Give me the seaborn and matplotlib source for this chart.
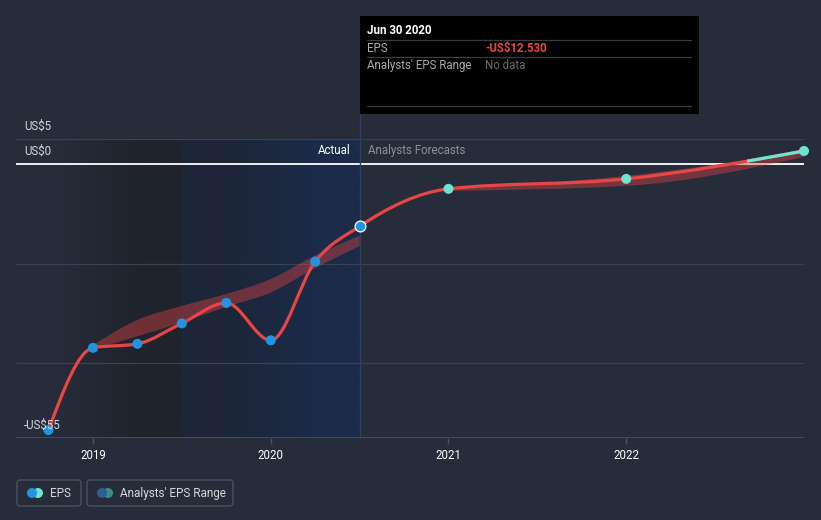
import numpy as np
import matplotlib
matplotlib.use("Agg")
import matplotlib.pyplot as plt
import matplotlib.patches as mpatches
from matplotlib.path import Path
import seaborn as sns

# reported EPS (US$), quarter ends as decimal years
act_x = [2018.75, 2019.0, 2019.25, 2019.5, 2019.75, 2020.0, 2020.25, 2020.5]
act_eps = [-53.4, -36.9, -36.1, -32.0, -27.9, -35.4, -19.6, -12.53]

# analysts' forecasts (year ends)
fc_x = [2021.0, 2022.0, 2023.0]
fc_eps = [-5.0, -3.0, 2.6]

# analysts' EPS range
rng_past_x = [2019.0, 2019.25, 2019.5, 2019.75, 2020.0, 2020.25, 2020.5]
rng_past_lo = [-37.2, -34.6, -31.8, -28.7, -25.8, -20.9, -16.5]
rng_past_hi = [-36.4, -31.3, -28.5, -26.1, -23.1, -18.4, -14.4]
rng_fc_x = [2021.0, 2022.0, 2023.0]
rng_fc_lo = [-5.4, -4.4, 1.4]
rng_fc_hi = [-4.8, -2.4, 2.6]

year_ticks = [2019, 2020, 2021, 2022]
y_label_vals = [5, 0, -55]
y_label_txt = ["US$5", "US$0", "-US$55"]

BG = "#262c3a"
RED = "#e84545"
BLUE = "#2394df"
TEAL = "#6de4cf"
GRID = "#3b4150"
TXT = "#d4d7dc"

sns.set_style("dark", {"axes.facecolor": BG, "figure.facecolor": BG})
plt.rcParams["font.family"] = ["Roboto", "DejaVu Sans"]


def monotone_bezier(xs, ys):
    """Monotone-x cubic (same idea as d3.curveMonotoneX) as bezier vertices."""
    xs = np.asarray(xs, float)
    ys = np.asarray(ys, float)
    h = np.diff(xs)
    s = np.diff(ys) / h
    n = len(xs)
    t = np.zeros(n)
    for i in range(1, n - 1):
        p = (s[i - 1] * h[i] + s[i] * h[i - 1]) / (h[i - 1] + h[i])
        t[i] = (np.sign(s[i - 1]) + np.sign(s[i])) * min(abs(s[i - 1]), abs(s[i]), 0.5 * abs(p))
    if n > 2:
        t[0] = (3 * s[0] - t[1]) / 2
        t[-1] = (3 * s[-1] - t[-2]) / 2
    else:
        t[:] = s[0]
    verts = [(xs[0], ys[0])]
    for i in range(n - 1):
        d = h[i] / 3
        verts += [(xs[i] + d, ys[i] + d * t[i]),
                  (xs[i + 1] - d, ys[i + 1] - d * t[i + 1]),
                  (xs[i + 1], ys[i + 1])]
    return verts


def line_path(xs, ys):
    v = monotone_bezier(xs, ys)
    return Path(v, [Path.MOVETO] + [Path.CURVE4] * (len(v) - 1))


def band_path(xs, lo, hi):
    up = monotone_bezier(xs, hi)
    dn = monotone_bezier(xs, lo)[::-1]
    verts = up + dn + [up[0]]
    codes = ([Path.MOVETO] + [Path.CURVE4] * (len(up) - 1)
             + [Path.LINETO] + [Path.CURVE4] * (len(dn) - 1) + [Path.CLOSEPOLY])
    return Path(verts, codes)


fig = plt.figure(figsize=(8.21, 5.2), dpi=100)
fig.patch.set_facecolor(BG)
ax = fig.add_axes([16 / 821, 82 / 520, 788 / 821, 299 / 520])
ax.set_facecolor(BG)
x0, x1 = 2018.567, 2023.0

# shaded backgrounds: last-year region and actual-to-date region
grad_dark = np.array([[[0x26, 0x2c, 0x3a], [0x1f, 0x23, 0x2c]]]) / 255
grad_blue = np.array([[[0x1d, 0x26, 0x38], [0x1b, 0x2b, 0x48]]]) / 255
ax.imshow(grad_dark, extent=[x0, 2019.5, -55, 5], aspect="auto", interpolation="bilinear", zorder=0)
ax.imshow(grad_blue, extent=[2019.5, 2020.5, -55, 5], aspect="auto", interpolation="bilinear", zorder=0)
ax.set_xlim(x0, x1)
ax.set_ylim(-55, 5)

for g in [5, -20, -40]:
    ax.axhline(g, color=GRID, lw=0.9, zorder=1)
ax.axhline(0, color="white", lw=1.3, zorder=1)
ax.axhline(-55, color="#4b5160", lw=1.2, zorder=1)
ax.axvline(2020.5, ymin=0, ymax=(438 - 114) / (438 - 139), color="#2f3f5e", lw=1,
           clip_on=False, zorder=1)

# analysts' range bands
for bx, blo, bhi in [(rng_past_x, rng_past_lo, rng_past_hi), (rng_fc_x, rng_fc_lo, rng_fc_hi)]:
    ax.add_patch(mpatches.PathPatch(band_path(bx, blo, bhi), facecolor=RED, alpha=0.4,
                                    edgecolor="none", zorder=2))

# EPS line, red with a teal tail at the far end
all_x = act_x + fc_x
all_eps = act_eps + fc_eps
ax.add_patch(mpatches.PathPatch(line_path(all_x, all_eps), facecolor="none", edgecolor=RED,
                                lw=2.3, zorder=3, capstyle="round"))
teal_line = mpatches.PathPatch(line_path(all_x, all_eps), facecolor="none", edgecolor=TEAL,
                               lw=2.3, zorder=3)
ax.add_patch(teal_line)
clip = mpatches.Rectangle((2022.68, -60), 1.0, 70, transform=ax.transData)
teal_line.set_clip_path(clip)

sns.scatterplot(x=act_x[:-1], y=act_eps[:-1], color=BLUE, s=52, edgecolor="none",
                ax=ax, zorder=5, clip_on=False, legend=False)
sns.scatterplot(x=act_x[-1:], y=act_eps[-1:], color=BLUE, s=60, edgecolor="white",
                linewidth=0.9, ax=ax, zorder=5, clip_on=False, legend=False)
sns.scatterplot(x=fc_x, y=fc_eps, color=TEAL, s=52, edgecolor="none",
                ax=ax, zorder=5, clip_on=False, legend=False)

ax.text(2020.45, 1.3, "Actual", color="white", fontsize=8.3, ha="right", va="bottom", zorder=6)
ax.text(2020.545, 1.3, "Analysts Forecasts", color="#8b909a", fontsize=8.3, ha="left",
        va="bottom", zorder=6)

for v, lab in zip(y_label_vals, y_label_txt):
    ax.text(0.01, v + 1.3, lab, transform=ax.get_yaxis_transform(), color=TXT,
            fontsize=8.3, ha="left", va="bottom", zorder=6)

ax.set_xticks(year_ticks)
ax.set_xticklabels([str(y) for y in year_ticks])
ax.set_yticks([])
ax.tick_params(axis="x", colors="#4b5160", length=4, width=1, labelcolor="white",
               labelsize=8.3, pad=4, bottom=True)
for sp in ax.spines.values():
    sp.set_visible(False)
ax.grid(False)

# overlay in pixel coordinates for tooltip and legend
ov = fig.add_axes([0, 0, 1, 1], zorder=10)
ov.set_xlim(0, 821)
ov.set_ylim(520, 0)
ov.axis("off")
ov.patch.set_alpha(0)

ov.add_patch(mpatches.Rectangle((360, 16), 339, 98, facecolor="black", edgecolor="none"))
for yy in [40, 57, 106]:
    ov.plot([367, 691], [yy, yy], color="#3c3c3c", lw=0.9)
ov.text(367, 31, "Jun 30 2020", color="white", fontsize=8.3, fontweight="bold", va="center")
ov.text(367, 48.5, "EPS", color="#a8abb0", fontsize=8.3, va="center")
ov.text(485, 48.5, "-US$12.530", color=RED, fontsize=8.3, fontweight="bold", va="center")
ov.text(367, 65.5, "Analysts' EPS Range", color="#a8abb0", fontsize=8.3, va="center")
ov.text(485, 65.5, "No data", color="#6b6e73", fontsize=8.3, va="center")

legend_items = [
    (17, 64, "EPS", BLUE, TEAL),
    (87, 146, "Analysts' EPS Range", "#2a6190", "#3f8a8a"),
]
for bx, bw, lab, c1, c2 in legend_items:
    ov.add_patch(mpatches.FancyBboxPatch((bx, 480), bw, 26,
                                         boxstyle="round,pad=0,rounding_size=3",
                                         facecolor="none", edgecolor="#4a505d", lw=1))
    ov.add_patch(mpatches.Circle((bx + 21, 493), 4.3, color=c2))
    ov.add_patch(mpatches.Circle((bx + 15, 493), 4.3, color=c1))
    ov.text(bx + 33, 493.5, lab, color=TXT, fontsize=8.5, va="center")

fig.savefig("out.png", dpi=100, facecolor=BG)
